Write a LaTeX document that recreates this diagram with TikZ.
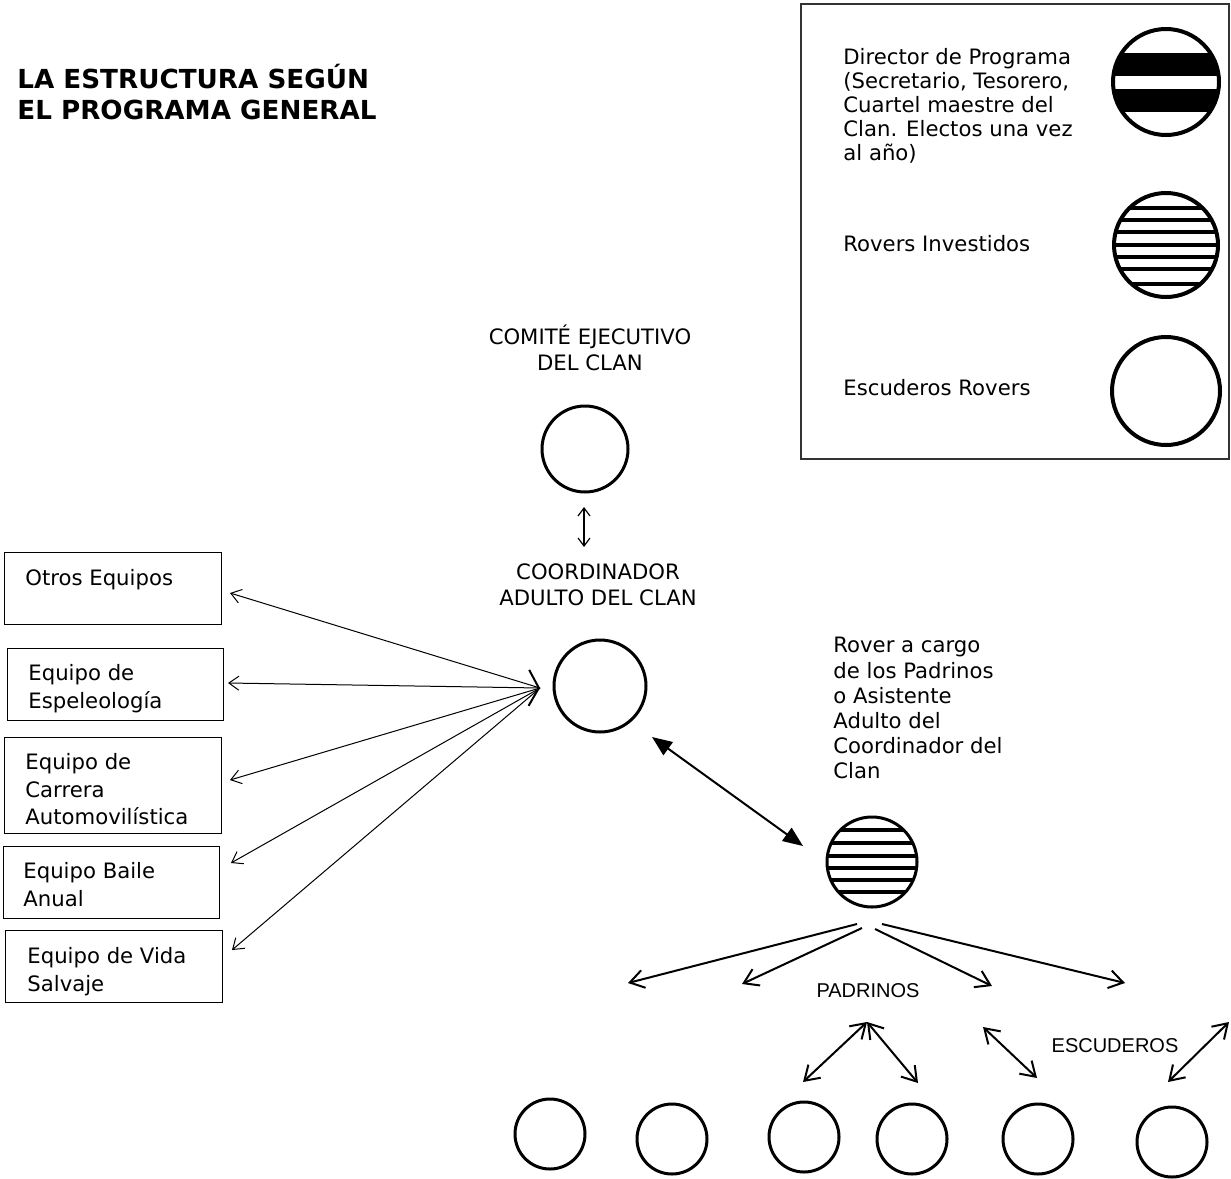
\documentclass[tikz,border=0pt]{standalone}
\usepackage{fontspec}
\setmainfont{DejaVu Sans}
\newfontfamily\helv{Liberation Sans}
\usetikzlibrary{arrows.meta}
\tikzset{
  ring/.style={circle, draw, line width=1.5pt, inner sep=0pt},
  legring/.style={circle, draw, line width=2pt, inner sep=0pt},
  teambox/.style={draw, line width=0.7pt, inner sep=0pt, anchor=north west},
  body/.style={font=\fontsize{10.6}{13.75}\selectfont, align=left, inner sep=0pt, anchor=north west},
  legtext/.style={font=\fontsize{10.6}{12}\selectfont, align=left, inner sep=0pt, anchor=north west},
  captext/.style={font=\fontsize{10.6}{13}\selectfont, align=center, inner sep=0pt},
  smallcaps/.style={font=\helv\fontsize{10}{12}\selectfont, inner sep=0pt},
  thinarrow/.style={line width=0.5pt, -{Straight Barb[length=5pt,width=7pt]}},
  fanarrow/.style={line width=1pt, -{Straight Barb[length=7pt,width=9pt]}},
  duoarrow/.style={line width=1pt, {Straight Barb[length=7pt,width=9pt]}-{Straight Barb[length=7pt,width=9pt]}},
  bigarrow/.style={line width=1pt, {Triangle[length=10pt,width=8pt]}-{Triangle[length=10pt,width=8pt]}},
  stripe/.style={line width=1.7pt}
}
\begin{document}
\begin{tikzpicture}[x=0.5pt,y=-0.5pt]
\useasboundingbox (0,0) rectangle (1231,1178);

% Title
\node[font=\bfseries\fontsize{13.1}{15.5}\selectfont, align=left, inner sep=0pt, anchor=north west] (title) at (17,64)
  {LA ESTRUCTURA SEGÚN\\EL PROGRAMA GENERAL};

% Legend box
\node[draw=black!80, line width=1pt, inner sep=0pt, anchor=north west, minimum width=214pt, minimum height=227.5pt] (legend) at (800,3) {};
\node[legtext] (lt1) at (843,48) {Director de Programa\\(Secretario, Tesorero,\\Cuartel maestre del\\Clan. Electos una vez\\al año)};
\node[legtext] (lt2) at (843,235) {Rovers Investidos};
\node[legtext] (lt3) at (843,379) {Escuderos Rovers};

% Legend circle 1 (director)
\begin{scope}
  \clip (1166,82) circle[radius=26.5pt];
  \fill (1100,53) rectangle (1232,76);
  \fill (1100,89) rectangle (1232,112);
\end{scope}
\node[legring, minimum size=53pt] (lc1) at (1166,82) {};

% Legend circle 2 (investidos)
\begin{scope}
  \clip (1166,245) circle[radius=26pt];
  \foreach \yy in {208,220,232,245,257,269,284} \draw[stripe] (1100,\yy) -- (1232,\yy);
\end{scope}
\node[legring, minimum size=52pt] (lc2) at (1166,245) {};

% Legend circle 3 (escuderos)
\node[legring, minimum size=54pt] (lc3) at (1166,391) {};

% Committee
\node[captext] (comite) at (590,348) {COMITÉ EJECUTIVO\\DEL CLAN};
\node[ring, minimum size=43pt] (ccom) at (585,449) {};
\coordinate (ca) at (584,507);
\coordinate (cb) at (584,547);
\draw[line width=0.6pt, {Straight Barb[length=4pt,width=6pt]}-{Straight Barb[length=4pt,width=6pt]}] (ca) -- (cb);

% Coordinator
\node[captext] (coord) at (598,585) {COORDINADOR\\ADULTO DEL CLAN};
\node[ring, minimum size=46pt] (ccoord) at (600,686) {};
\coordinate (hub) at (540,688);

% Team boxes
\node[teambox, minimum width=108.5pt, minimum height=36pt] (b1) at (4,552) {};
\node[teambox, minimum width=108pt, minimum height=36pt] (b2) at (7,648) {};
\node[teambox, minimum width=108.5pt, minimum height=48pt] (b3) at (4,737) {};
\node[teambox, minimum width=108pt, minimum height=36pt] (b4) at (3,846) {};
\node[teambox, minimum width=108.5pt, minimum height=36pt] (b5) at (5,930) {};
\node[body] (bt1) at (25,569) {Otros Equipos};
\node[body] (bt2) at (28,664) {Equipo de\\Espeleología};
\node[body] (bt3) at (25,753) {Equipo de\\Carrera\\Automovilística};
\node[body] (bt4) at (23,862) {Equipo Baile\\Anual};
\node[body] (bt5) at (27,947) {Equipo de Vida\\Salvaje};

\coordinate (e1) at (230,593);
\coordinate (e2) at (228,683);
\coordinate (e3) at (230,780);
\coordinate (e4) at (231,863);
\coordinate (e5) at (232,950);
\draw[thinarrow] (hub) -- (e1);
\draw[line width=0.5pt, {Straight Barb[length=5pt,width=18pt,line width=1pt]}-{Straight Barb[length=5pt,width=7pt]}] (hub) -- (e2);
\draw[thinarrow] (hub) -- (e3);
\draw[thinarrow] (hub) -- (e4);
\draw[thinarrow] (hub) -- (e5);

% Rover in charge
\node[legtext, font=\fontsize{10.6}{12.6}\selectfont] (rover) at (833,637) {Rover a cargo\\de los Padrinos\\o Asistente\\Adulto del\\Coordinador del\\Clan};
\coordinate (ba1) at (652,737);
\coordinate (ba2) at (803,846);
\draw[bigarrow] (ba1) -- (ba2);

% Striped circle
\begin{scope}
  \clip (872,862) circle[radius=22.5pt];
  \foreach \yy in {830,843,856,868,880,892} \draw[stripe] (820,\yy) -- (925,\yy);
\end{scope}
\node[ring, minimum size=45pt] (cstr) at (872,862) {};

% Fan arrows
\coordinate (f1s) at (857,924);
\coordinate (f2s) at (862,928);
\coordinate (f3s) at (875,929);
\coordinate (f4s) at (882,924);
\coordinate (f1) at (628,983);
\coordinate (f2) at (742,984);
\coordinate (f3) at (992,986);
\coordinate (f4) at (1125,983);
\draw[fanarrow] (f1s) -- (f1);
\draw[fanarrow] (f2s) -- (f2);
\draw[fanarrow] (f3s) -- (f3);
\draw[fanarrow] (f4s) -- (f4);

\node[smallcaps] (padrinos) at (868,991) {PADRINOS};
\node[smallcaps] (escuderos) at (1115,1046) {ESCUDEROS};

% Bottom arrows
\coordinate (apex) at (867,1022);
\coordinate (p1) at (803,1082);
\coordinate (p2) at (918,1083);
\coordinate (q1) at (983,1027);
\coordinate (q2) at (1037,1078);
\coordinate (r1) at (1229,1022);
\coordinate (r2) at (1168,1082);
\draw[duoarrow] (apex) -- (p1);
\draw[duoarrow] (apex) -- (p2);
\draw[duoarrow] (q1) -- (q2);
\draw[duoarrow] (r1) -- (r2);

% Bottom circles
\node[ring, minimum size=35pt] (o1) at (550,1134) {};
\node[ring, minimum size=35pt] (o2) at (672,1139) {};
\node[ring, minimum size=35pt] (o3) at (804,1137) {};
\node[ring, minimum size=35pt] (o4) at (912,1139) {};
\node[ring, minimum size=35pt] (o5) at (1038,1139) {};
\node[ring, minimum size=35pt] (o6) at (1172,1142) {};
\end{tikzpicture}
\end{document}
